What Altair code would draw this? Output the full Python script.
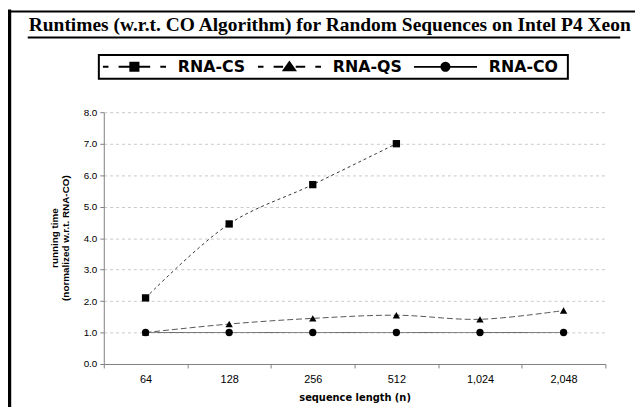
import math
import altair as alt
import pandas as pd

# ---- data ----
lengths = ["64", "128", "256", "512", "1,024", "2,048"]
series_names = ["RNA-CS", "RNA-QS", "RNA-CO"]
rna_cs = [2.1, 4.45, 5.7, 7.0]
rna_qs = [1.0, 1.27, 1.45, 1.55, 1.42, 1.7]
rna_co = [1.0, 1.0, 1.0, 1.0, 1.0, 1.0]
y_ticks = [0, 1, 2, 3, 4, 5, 6, 7, 8]

title_text = "Runtimes (w.r.t. CO Algorithm) for Random Sequences on Intel P4 Xeon"
x_title = "sequence length (n)"
y_title = ["running time", "(normalized w.r.t. RNA-CO)"]

rows = []
for name, vals in zip(series_names, [rna_cs, rna_qs, rna_co]):
    for n, v in zip(lengths, vals):
        rows.append({"series": name, "n": n, "value": v})
df = pd.DataFrame(rows)


# legend symbols: line + marker as filled custom paths in the [-1,1] box
def dash(a, b, h=0.032):
    return f"M{a},{-h}H{b}V{h}H{a}Z"


def disc(r, k=24):
    pts = [(r * math.cos(2 * math.pi * i / k), r * math.sin(2 * math.pi * i / k)) for i in range(k)]
    return "M" + "L".join(f"{x:.4f},{y:.4f}" for x, y in pts) + "Z"


path_cs = (dash(-1, -0.82) + dash(-0.5, -0.15) +
           "M-0.16,-0.16H0.16V0.16H-0.16Z" + dash(0.15, 0.5) + dash(0.82, 1))
path_qs = (dash(-1, -0.82) + dash(-0.5, -0.2) +
           "M0,-0.2L0.24,0.14L-0.24,0.14Z" + dash(0.2, 0.5) + dash(0.82, 1))
path_co = dash(-1, -0.15, 0.028) + disc(0.16) + dash(0.15, 1, 0.028)

x_enc = alt.X(
    "n:N", sort=lengths,
    scale=alt.Scale(type="band", domain=lengths, paddingInner=0, paddingOuter=0),
    axis=alt.Axis(
        title=x_title, labelAngle=0, tickBand="extent", tickSize=4,
        labelFont="Liberation Sans", labelFontSize=11, labelColor="black",
        labelPadding=6, domainColor="#808080", tickColor="#808080",
        titleFont="DejaVu Sans", titleFontSize=10, titleFontWeight="bold",
        titleColor="black", titlePadding=8, grid=False,
    ),
)
y_enc = alt.Y(
    "value:Q",
    scale=alt.Scale(domain=[0, 8], nice=False),
    axis=alt.Axis(
        values=y_ticks, format=".1f", tickSize=4, labelPadding=3,
        labelFont="Liberation Sans", labelFontSize=10, labelColor="black",
        domainColor="#808080", tickColor="#808080",
        grid=True, gridDash=[3, 3], gridColor="#c8c8c8",
        title=y_title, titleFont="Liberation Sans", titleFontSize=10,
        titleFontWeight="bold", titleColor="black", titleAngle=270,
        titleX=-50, titleY=127, titleAlign="center", titleBaseline="middle",
        titleLineHeight=11,
    ),
)

lines = alt.Chart(df).mark_line(strokeWidth=1, interpolate="catmull-rom").encode(
    x=x_enc, y=y_enc,
    strokeDash=alt.StrokeDash("series:N", scale=alt.Scale(domain=series_names, range=[[3, 3], [6, 3], [1, 0]]), legend=None),
    color=alt.Color("series:N", scale=alt.Scale(domain=series_names, range=["#333333", "#555555", "#666666"]), legend=None),
)

points = alt.Chart(df).mark_point(filled=True, opacity=1, color="black", size=55).encode(
    x=x_enc, y=y_enc,
    shape=alt.Shape("series:N", scale=alt.Scale(domain=series_names, range=["square", "triangle-up", "circle"]), legend=None),
)

legend_layer = alt.Chart(df).transform_filter("false").mark_point(
    filled=True, opacity=1, color="black"
).encode(
    shape=alt.Shape(
        "series:N",
        scale=alt.Scale(domain=series_names, range=[path_cs, path_qs, path_co]),
        legend=alt.Legend(
            title=None, orient="none", legendX=-5, legendY=-58, direction="horizontal",
            padding=4, symbolSize=4096, symbolStrokeWidth=0,
            symbolFillColor="black",
            labelFont="DejaVu Sans", labelFontSize=16, labelFontWeight="bold",
            labelColor="black", labelOffset=12, columnPadding=12, clipHeight=16,
        ),
    ),
)

one = alt.Data(values=[{}])
left_border = alt.Chart(one).mark_rule(color="black", strokeWidth=3.5).encode(
    x=alt.value(-95.5), y=alt.value(-104), y2=alt.value(300))
top_border = alt.Chart(one).mark_rule(color="black", strokeWidth=2).encode(
    x=alt.value(-97), x2=alt.value(540), y=alt.value(-102))
underline = alt.Chart(one).mark_rule(color="black", strokeWidth=2).encode(
    x=alt.value(-77), x2=alt.value(523), y=alt.value(-75.7))
legend_frame = alt.Chart(one).mark_rect(fill=None, stroke="black", strokeWidth=2).encode(
    x=alt.value(-5), x2=alt.value(470), y=alt.value(-58), y2=alt.value(-34))
title_mark = alt.Chart(one).mark_text(
    font="Liberation Serif", fontSize=19.7, fontWeight="bold", color="black",
    align="left", baseline="alphabetic",
).encode(x=alt.value(-76), y=alt.value(-82), text=alt.value(title_text))

chart = alt.layer(
    left_border, top_border, underline, title_mark, legend_frame,
    lines, points, legend_layer
).resolve_scale(
    shape="independent"
).properties(
    width=508, height=255,
    autosize=alt.AutoSizeParams(type="none"),
    padding={"left": 97, "top": 103, "right": 30, "bottom": 41},
).configure_view(stroke=None)

chart.save("out.html", embed_options={"renderer": "svg", "actions": False})
